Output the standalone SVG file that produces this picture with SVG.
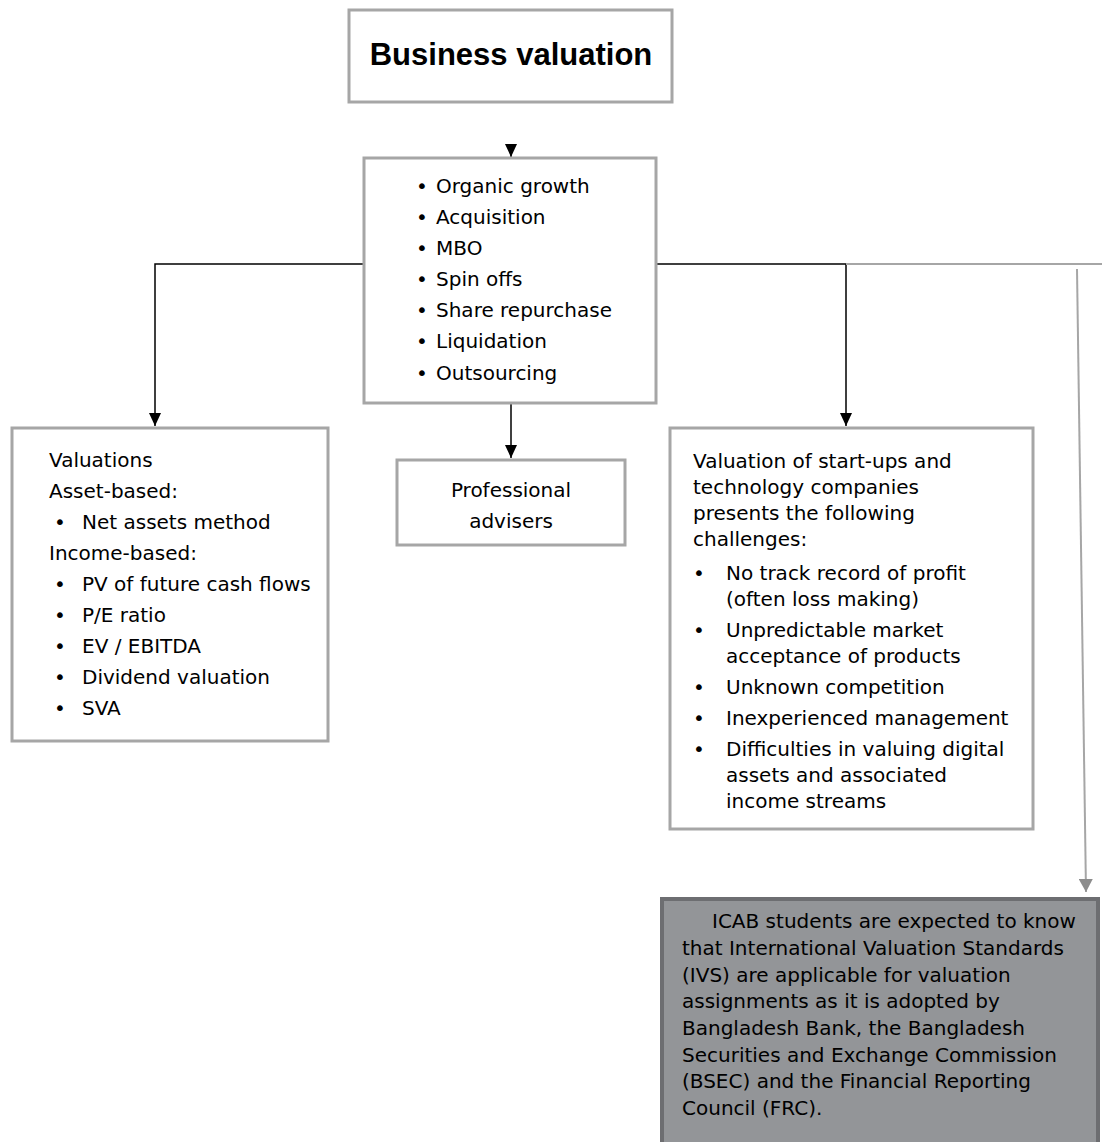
<svg xmlns="http://www.w3.org/2000/svg" width="1102" height="1142" viewBox="0 0 1102 1142">
  <style>
    .box { fill: #ffffff; stroke: #a6a6a6; stroke-width: 3; }
    .note { fill: #939598; stroke: #6d6e71; stroke-width: 4; }
    .t { font-family: "DejaVu Sans", "Liberation Sans", sans-serif; font-size: 20px; fill: #000000; }
    .title { font-family: "Liberation Sans", Arial, sans-serif; font-size: 31px; font-weight: bold; fill: #000000; }
    .link { fill: none; stroke: #000000; stroke-width: 1.5; }
    .glink { fill: none; stroke: #a6a6a6; stroke-width: 2; }
  </style>
  <defs>
    <marker id="arrow" markerUnits="userSpaceOnUse" markerWidth="14" markerHeight="12" viewBox="0 0 14 12" refX="13" refY="6" orient="auto">
      <path d="M0,0 L13,6 L0,12 Z" fill="#000000"/>
    </marker>
    <marker id="garrow" markerUnits="userSpaceOnUse" markerWidth="14" markerHeight="14" viewBox="0 0 14 14" refX="13" refY="7" orient="auto">
      <path d="M0,0 L13,7 L0,14 Z" fill="#8c8c8c"/>
    </marker>
  </defs>

  <!-- connectors -->
  <g id="connectors">
    <path class="link" d="M511,146 L511,157" marker-end="url(#arrow)"/>
    <path class="link" d="M364,264 L155,264 L155,426" marker-end="url(#arrow)"/>
    <path class="link" d="M656,264 L846,264 L846,426" marker-end="url(#arrow)"/>
    <path class="link" d="M511,403 L511,458" marker-end="url(#arrow)"/>
    <path class="glink" d="M846,264 L1102,264"/>
    <path class="glink" d="M1077,269 L1086,892" marker-end="url(#garrow)"/>
  </g>

  <g id="title">
    <rect class="box" x="349" y="10" width="323" height="92"/>
    <text class="title" x="511" y="65" text-anchor="middle">Business valuation</text>
  </g>

  <g id="options">
    <rect class="box" x="364" y="158" width="292" height="245"/>
    <g class="t">
      <text x="416" y="193">•</text><text x="436" y="193">Organic growth</text>
      <text x="416" y="224">•</text><text x="436" y="224">Acquisition</text>
      <text x="416" y="255">•</text><text x="436" y="255">MBO</text>
      <text x="416" y="286">•</text><text x="436" y="286">Spin offs</text>
      <text x="416" y="317">•</text><text x="436" y="317">Share repurchase</text>
      <text x="416" y="348">•</text><text x="436" y="348">Liquidation</text>
      <text x="416" y="380">•</text><text x="436" y="380">Outsourcing</text>
    </g>
  </g>

  <g id="valuations">
    <rect class="box" x="12" y="428" width="316" height="313"/>
    <g class="t">
      <text x="49" y="467">Valuations</text>
      <text x="49" y="498">Asset-based:</text>
      <text x="54" y="529">•</text><text x="82" y="529">Net assets method</text>
      <text x="49" y="560">Income-based:</text>
      <text x="54" y="591">•</text><text x="82" y="591">PV of future cash flows</text>
      <text x="54" y="622">•</text><text x="82" y="622">P/E ratio</text>
      <text x="54" y="653">•</text><text x="82" y="653">EV / EBITDA</text>
      <text x="54" y="684">•</text><text x="82" y="684">Dividend valuation</text>
      <text x="54" y="715">•</text><text x="82" y="715">SVA</text>
    </g>
  </g>

  <g id="advisers">
    <rect class="box" x="397" y="460" width="228" height="85"/>
    <g class="t" text-anchor="middle">
      <text x="511" y="497">Professional</text>
      <text x="511" y="528">advisers</text>
    </g>
  </g>

  <g id="startups">
    <rect class="box" x="670" y="428" width="363" height="401"/>
    <g class="t">
      <text x="693" y="468">Valuation of start-ups and</text>
      <text x="693" y="494">technology companies</text>
      <text x="693" y="520">presents the following</text>
      <text x="693" y="546">challenges:</text>
      <text x="693" y="580">•</text><text x="726" y="580">No track record of profit</text>
      <text x="726" y="606">(often loss making)</text>
      <text x="693" y="637">•</text><text x="726" y="637">Unpredictable market</text>
      <text x="726" y="663">acceptance of products</text>
      <text x="693" y="694">•</text><text x="726" y="694">Unknown competition</text>
      <text x="693" y="725">•</text><text x="726" y="725">Inexperienced management</text>
      <text x="693" y="756">•</text><text x="726" y="756">Difficulties in valuing digital</text>
      <text x="726" y="782">assets and associated</text>
      <text x="726" y="808">income streams</text>
    </g>
  </g>

  <g id="ivs-note">
    <rect class="note" x="662" y="899" width="436" height="250"/>
    <g class="t">
      <text x="712" y="928">ICAB students are expected to know</text>
      <text x="682" y="955">that International Valuation Standards</text>
      <text x="682" y="982">(IVS) are applicable for valuation</text>
      <text x="682" y="1008">assignments as it is adopted by</text>
      <text x="682" y="1035">Bangladesh Bank, the Bangladesh</text>
      <text x="682" y="1062">Securities and Exchange Commission</text>
      <text x="682" y="1088">(BSEC) and the Financial Reporting</text>
      <text x="682" y="1115">Council (FRC).</text>
    </g>
  </g>
</svg>
